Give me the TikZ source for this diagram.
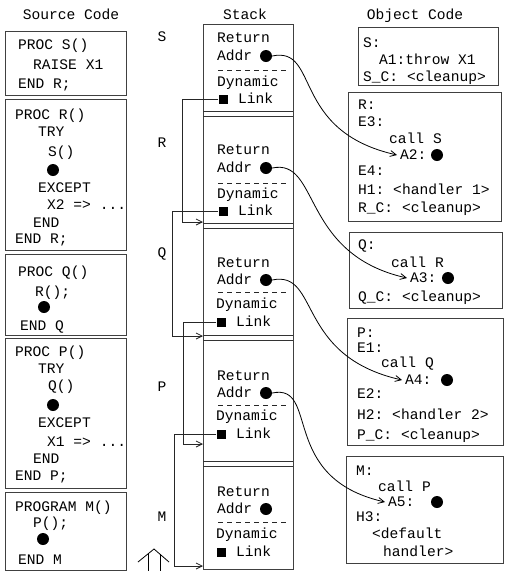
\documentclass[tikz,border=0pt]{standalone}
\usepackage{fontspec}
\setmonofont{Liberation Mono}
\usetikzlibrary{arrows.meta,fit}
\begin{document}
\begin{tikzpicture}[x=1pt,y=-1pt,
  txt/.style={anchor=west, inner sep=0pt, text height=8pt, text depth=0pt, font=\ttfamily\fontsize{14.6}{17}\selectfont},
  ttl/.style={anchor=center, inner sep=0pt, text height=8pt, text depth=0pt, font=\ttfamily\fontsize{14.6}{17}\selectfont},
  box/.style={draw=black!75, line width=0.9pt, inner sep=0pt},
  dotn/.style={circle, fill=black, inner sep=0pt, minimum size=12pt},
  sqn/.style={rectangle, fill=black, inner sep=0pt, minimum size=9pt},
  lnk/.style={draw=black!85, line width=0.8pt, -{Straight Barb[length=6pt,width=6pt]}},
  ret/.style={draw=black, line width=0.8pt, -{Straight Barb[length=6pt,width=6pt]}},
  dsh/.style={draw=black!85, line width=0.8pt, dash pattern=on 5pt off 4pt},
  dbl/.style={draw=black!80, line width=0.9pt}
]
\useasboundingbox (0,0) rectangle (504,571);

% titles
\node[ttl] (tSrc) at (71,15) {Source Code};
\node[ttl] (tStk) at (245,15) {Stack};
\node[ttl] (tObj) at (415,15) {Object Code};

% ---------------- source code boxes
\node[box, fit={(5,31) (126,95)}] (srcS) {};
\node[box, fit={(5,99) (126,250)}] (srcR) {};
\node[box, fit={(5,254) (126,335)}] (srcQ) {};
\node[box, fit={(5,338) (126,488)}] (srcP) {};
\node[box, fit={(5,492) (126,570)}] (srcM) {};

\node[txt] (s1) at (18,45) {PROC S()};
\node[txt] (s2) at (33,65) {RAISE X1};
\node[txt] (s3) at (18,84) {END R;};

\node[txt] (r1) at (15,115) {PROC R()};
\node[txt] (r2) at (38,132) {TRY};
\node[txt] (r3) at (48,152) {S()};
\node[dotn] (rd) at (53,170) {};
\node[txt] (r4) at (38,188) {EXCEPT};
\node[txt] (r5) at (47,205) {X2 => ...};
\node[txt] (r6) at (33,223) {END};
\node[txt] (r7) at (15,239) {END R;};

\node[txt] (q1) at (18,272) {PROC Q()};
\node[txt] (q2) at (35,292) {R();};
\node[dotn] (qd) at (44,307) {};
\node[txt] (q3) at (20,326) {END Q};

\node[txt] (p1) at (15,352) {PROC P()};
\node[txt] (p2) at (38,369) {TRY};
\node[txt] (p3) at (48,386) {Q()};
\node[dotn] (pd) at (53,405) {};
\node[txt] (p4) at (38,423) {EXCEPT};
\node[txt] (p5) at (47,442) {X1 => ...};
\node[txt] (p6) at (33,459) {END};
\node[txt] (p7) at (15,476) {END P;};

\node[txt] (m1) at (15,507) {PROGRAM M()};
\node[txt] (m2) at (33,523) {P();};
\node[dotn] (md) at (43,539) {};
\node[txt] (m3) at (18,560) {END M};

% ---------------- stack
\node[box, fit={(203,24) (293,569)}] (stack) {};
\foreach \ya/\yb in {111/116, 223/228, 335/340, 461/466}{
  \draw[dbl] (203,\ya) -- (293,\ya);
  \draw[dbl] (203,\yb) -- (293,\yb);
}
% frame labels
\node[ttl] (lS) at (162,37) {S};
\node[ttl] (lR) at (162,143) {R};
\node[ttl] (lQ) at (162,253) {Q};
\node[ttl] (lP) at (162,387) {P};
\node[ttl] (lM) at (162,517) {M};

% frame S
\node[txt] (fSr) at (217,38) {Return};
\node[txt] (fSa) at (217,56) {Addr};
\node[dotn] (dS) at (266,56) {};
\draw[dsh] (218,70) -- (288,70);
\node[txt] (fSd) at (217,82) {Dynamic};
\node[sqn] (kS) at (223,99) {};
\node[txt] (fSl) at (238,99) {Link};
% frame R
\node[txt] (fRr) at (217,150) {Return};
\node[txt] (fRa) at (217,168) {Addr};
\node[dotn] (dR) at (266,168) {};
\draw[dsh] (218,183) -- (288,183);
\node[txt] (fRd) at (217,194) {Dynamic};
\node[sqn] (kR) at (223,211) {};
\node[txt] (fRl) at (238,211) {Link};
% frame Q
\node[txt] (fQr) at (217,263) {Return};
\node[txt] (fQa) at (217,280) {Addr};
\node[dotn] (dQ) at (266,280) {};
\draw[dsh] (218,292) -- (288,292);
\node[txt] (fQd) at (216,304) {Dynamic};
\node[sqn] (kQ) at (221,322) {};
\node[txt] (fQl) at (236,322) {Link};
% frame P
\node[txt] (fPr) at (217,376) {Return};
\node[txt] (fPa) at (217,393) {Addr};
\node[dotn] (dP) at (266,393) {};
\draw[dsh] (218,405) -- (288,405);
\node[txt] (fPd) at (216,416) {Dynamic};
\node[sqn] (kP) at (221,434) {};
\node[txt] (fPl) at (236,434) {Link};
% frame M
\node[txt] (fMr) at (217,492) {Return};
\node[txt] (fMa) at (217,509) {Addr};
\node[dotn] (dM) at (266,509) {};
\draw[dsh] (218,522) -- (288,522);
\node[txt] (fMd) at (216,534) {Dynamic};
\node[sqn] (kM) at (221,552) {};
\node[txt] (fMl) at (236,552) {Link};

% dynamic link targets
\coordinate (tR) at (203,222);
\coordinate (tQ) at (203,336);
\coordinate (tP) at (203,444);
\coordinate (tM) at (203,566);
\draw[lnk] (kS.west) -- (182,99) |- (tR);
\draw[lnk] (kR.west) -- (172,211) |- (tQ);
\draw[lnk] (kQ.west) -- (183,322) |- (tP);
\draw[lnk] (kP.west) -- (174,434) |- (tM);

% up double arrow
\draw[line width=0.8pt] (148,571) -- (148,554);
\draw[line width=0.8pt] (160,571) -- (160,554);
\draw[line width=0.8pt] (138,562) -- (154,549) -- (169,562);

% ---------------- object code
\node[box, fit={(358,27) (498,85)}] (oS) {};
\node[box, fit={(348,92) (501,221)}] (oR) {};
\node[box, fit={(349,232) (502,308)}] (oQ) {};
\node[box, fit={(347,318) (503,445)}] (oP) {};
\node[box, fit={(346,456) (503,563)}] (oM) {};

\node[txt] (os1) at (363,43) {S:};
\node[txt] (os2) at (379,60) {A1:throw X1};
\node[txt] (os3) at (363,77) {S\_C: <cleanup>};

\node[txt] (or1) at (358,105) {R:};
\node[txt] (or2) at (358,122) {E3:};
\node[txt] (or3) at (389,139) {call S};
\node[txt] (A2) at (400,155) {A2:};
\node[dotn] (or4) at (437,155) {};
\node[txt] (or5) at (358,171) {E4:};
\node[txt] (or6) at (358,190) {H1: <handler 1>};
\node[txt] (or7) at (358,208) {R\_C: <cleanup>};

\node[txt] (oq1) at (358,245) {Q:};
\node[txt] (oq2) at (391,263) {call R};
\node[txt] (A3) at (410,278) {A3:};
\node[dotn] (oq3) at (448,278) {};
\node[txt] (oq4) at (358,297) {Q\_C: <cleanup>};

\node[txt] (op1) at (357,333) {P:};
\node[txt] (op2) at (357,348) {E1:};
\node[txt] (op3) at (381,363) {call Q};
\node[txt] (A4) at (405,380) {A4:};
\node[dotn] (op4) at (447,380) {};
\node[txt] (op5) at (357,394) {E2:};
\node[txt] (op6) at (357,415) {H2: <handler 2>};
\node[txt] (op7) at (357,435) {P\_C: <cleanup>};

\node[txt] (om1) at (356,471) {M:};
\node[txt] (om2) at (378,487) {call P};
\node[txt] (A5) at (388,502) {A5:};
\node[dotn] (om3) at (437,502) {};
\node[txt] (om4) at (356,517) {H3:};
\node[txt] (om5) at (372,534) {<default};
\node[txt] (om6) at (383,552) {handler>};

% return address curves
\draw[ret] (dS.east) .. controls +(48,-10) and +(-107,-24) .. ([xshift=-3pt]A2.west);
\draw[ret] (dR.east) .. controls +(48,-10) and +(-107,-24) .. ([xshift=-3pt]A3.west);
\draw[ret] (dQ.east) .. controls +(48,-10) and +(-107,-24) .. ([xshift=-3pt]A4.west);
\draw[ret] (dP.east) .. controls +(48,-10) and +(-107,-24) .. ([xshift=-3pt]A5.west);
\end{tikzpicture}
\end{document}
